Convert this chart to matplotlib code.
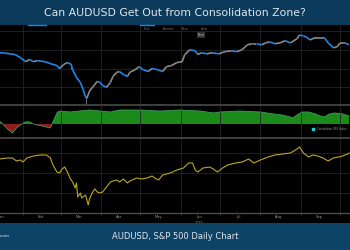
import matplotlib
matplotlib.use('Agg')
import matplotlib.pyplot as plt
import matplotlib.dates as mdates
from matplotlib.collections import LineCollection
from matplotlib.ticker import MultipleLocator, NullFormatter
import numpy as np
import pandas as pd

# AUDUSD closes
price_dates = ['2020-01-14', '2020-01-18', '2020-01-22', '2020-01-26', '2020-01-30',
               '2020-02-03', '2020-02-06', '2020-02-09', '2020-02-12', '2020-02-18',
               '2020-02-22', '2020-02-27', '2020-02-29', '2020-03-03', '2020-03-06',
               '2020-03-09', '2020-03-10', '2020-03-13', '2020-03-16', '2020-03-18',
               '2020-03-20', '2020-03-21', '2020-03-23', '2020-03-26', '2020-03-29',
               '2020-03-31', '2020-04-02', '2020-04-05', '2020-04-08', '2020-04-10',
               '2020-04-13', '2020-04-15', '2020-04-18', '2020-04-21', '2020-04-23',
               '2020-04-27', '2020-04-30', '2020-05-03', '2020-05-07', '2020-05-10',
               '2020-05-14', '2020-05-18', '2020-05-21', '2020-05-25', '2020-05-29',
               '2020-06-02', '2020-06-04', '2020-06-08', '2020-06-12', '2020-06-14',
               '2020-06-17', '2020-06-21', '2020-06-25', '2020-06-30', '2020-07-05',
               '2020-07-10', '2020-07-14', '2020-07-18', '2020-07-22', '2020-07-26',
               '2020-07-29', '2020-08-02', '2020-08-05', '2020-08-08', '2020-08-12',
               '2020-08-16', '2020-08-20', '2020-08-24', '2020-08-29', '2020-08-31',
               '2020-09-03', '2020-09-06', '2020-09-08', '2020-09-12', '2020-09-16',
               '2020-09-19', '2020-09-22', '2020-09-26', '2020-09-29', '2020-10-01',
               '2020-10-05', '2020-10-08']
price_close = [0.692, 0.691, 0.689, 0.687, 0.679,
               0.668, 0.674, 0.668, 0.671, 0.668,
               0.663, 0.658, 0.650, 0.660, 0.666,
               0.661, 0.647, 0.626, 0.613, 0.595,
               0.574, 0.571, 0.590, 0.603, 0.616,
               0.613, 0.605, 0.600, 0.613, 0.629,
               0.640, 0.642, 0.634, 0.629, 0.640,
               0.647, 0.655, 0.647, 0.642, 0.650,
               0.647, 0.642, 0.655, 0.658, 0.666,
               0.668, 0.687, 0.700, 0.697, 0.687,
               0.692, 0.689, 0.692, 0.689, 0.695,
               0.697, 0.695, 0.700, 0.713, 0.716,
               0.716, 0.713, 0.718, 0.721, 0.716,
               0.718, 0.724, 0.718, 0.729, 0.739,
               0.737, 0.732, 0.726, 0.732, 0.732,
               0.732, 0.718, 0.705, 0.708, 0.718,
               0.718, 0.713]
wick_dates = ['2020-03-09', '2020-03-20']
wick_lows = [0.650, 0.555]

# rolling correlation with SPX (middle panel)
corr_dates = ['2020-01-14', '2020-01-18', '2020-01-21', '2020-01-24', '2020-01-27',
              '2020-01-31', '2020-02-03', '2020-02-06', '2020-02-09', '2020-02-12',
              '2020-02-16', '2020-02-19', '2020-02-22', '2020-02-24', '2020-02-27',
              '2020-02-29', '2020-03-08', '2020-03-23', '2020-04-08', '2020-04-15',
              '2020-05-01', '2020-05-16', '2020-05-31', '2020-06-16', '2020-06-26',
              '2020-07-01', '2020-07-16', '2020-08-01', '2020-08-11', '2020-08-18',
              '2020-08-24', '2020-08-26', '2020-08-29', '2020-09-02', '2020-09-07',
              '2020-09-12', '2020-09-16', '2020-09-19', '2020-09-23', '2020-09-27',
              '2020-10-03', '2020-10-08']
corr_values = [0.19, -0.13, -0.38, -0.56, -0.25,
               0.0, 0.13, 0.13, 0.0, -0.06,
               -0.13, -0.19, -0.25, 0.13, 0.69,
               0.81, 0.75, 0.875, 0.75, 0.875,
               0.875, 0.81, 0.875, 0.81, 0.69,
               0.75, 0.81, 0.75, 0.63, 0.56,
               0.44, 0.38, 0.56, 0.75, 0.75,
               0.63, 0.50, 0.44, 0.63, 0.69,
               0.63, 0.50]

# S&P 500 (bottom panel)
spx_dates = ['2020-01-14', '2020-01-20', '2020-01-24', '2020-01-27', '2020-01-30',
             '2020-02-01', '2020-02-04', '2020-02-09', '2020-02-14', '2020-02-19',
             '2020-02-22', '2020-02-24', '2020-02-27', '2020-02-29', '2020-03-02',
             '2020-03-04', '2020-03-06', '2020-03-08', '2020-03-10', '2020-03-12',
             '2020-03-13', '2020-03-14', '2020-03-16', '2020-03-17', '2020-03-20',
             '2020-03-22', '2020-03-23', '2020-03-25', '2020-03-27', '2020-03-29',
             '2020-03-31', '2020-04-02', '2020-04-05', '2020-04-08', '2020-04-10',
             '2020-04-13', '2020-04-15', '2020-04-18', '2020-04-21', '2020-04-23',
             '2020-04-28', '2020-05-02', '2020-05-06', '2020-05-10', '2020-05-12',
             '2020-05-15', '2020-05-18', '2020-05-24', '2020-05-29', '2020-06-03',
             '2020-06-07', '2020-06-10', '2020-06-12', '2020-06-14', '2020-06-18',
             '2020-06-23', '2020-06-26', '2020-06-29', '2020-07-03', '2020-07-07',
             '2020-07-13', '2020-07-18', '2020-07-23', '2020-07-27', '2020-08-01',
             '2020-08-07', '2020-08-12', '2020-08-18', '2020-08-24', '2020-08-28',
             '2020-08-31', '2020-09-03', '2020-09-07', '2020-09-10', '2020-09-14',
             '2020-09-18', '2020-09-22', '2020-09-26', '2020-09-30', '2020-10-03',
             '2020-10-07', '2020-10-08']
spx_close = [3350, 3375, 3375, 3300, 3325,
             3275, 3375, 3425, 3450, 3450,
             3375, 3200, 3025, 3000, 3100,
             3150, 3025, 2875, 2775, 2625,
             2750, 2400, 2500, 2375, 2450,
             2200, 2350, 2500, 2600, 2525,
             2500, 2525, 2650, 2775, 2800,
             2825, 2775, 2850, 2750, 2800,
             2875, 2850, 2875, 2925, 2875,
             2825, 2950, 3000, 3075, 3125,
             3250, 3250, 3075, 3025, 3125,
             3150, 3100, 3025, 3125, 3200,
             3250, 3275, 3350, 3250, 3325,
             3400, 3450, 3475, 3500, 3575,
             3650, 3500, 3400, 3450, 3425,
             3375, 3300, 3375, 3400, 3425,
             3475, 3500]

title = 'Can AUDUSD Get Out from Consolidation Zone?'
subtitle = 'AUDUSD, S&P 500 Daily Chart'
source = 'DailyFX.com'

BANNER = '#0c3a5b'
GRID = '#242424'
SEP = '#4a4a4a'

fig = plt.figure(figsize=(3.5, 2.5), dpi=100, facecolor='black')

x_start = pd.Timestamp('2020-01-14 09:00')
x_end = pd.Timestamp('2020-10-08 17:00')


def style_panel(ax):
    ax.set_facecolor('black')
    ax.set_xlim(x_start, x_end)
    ax.xaxis.set_major_locator(mdates.MonthLocator(bymonthday=1))
    ax.xaxis.set_minor_locator(mdates.MonthLocator(bymonthday=15))
    ax.grid(True, which='major', color=GRID, lw=0.6)
    ax.tick_params(which='both', length=0, labelbottom=False, labelleft=False)
    for s in ax.spines.values():
        s.set_visible(False)


# price panel
ax1 = fig.add_axes([0, 0.58, 1, 0.316])
style_panel(ax1)
ax1.set_ylim(0.553, 0.763)
ax1.yaxis.set_major_locator(MultipleLocator(0.05))
px = mdates.date2num(pd.to_datetime(price_dates))
py = np.array(price_close)
ax1.vlines(mdates.date2num(pd.to_datetime(wick_dates)), wick_lows,
           [price_close[price_dates.index(d)] for d in wick_dates],
           color='#8a8a8a', lw=0.6)
segs = [[(px[i], py[i]), (px[i + 1], py[i + 1])] for i in range(len(px) - 1)]
cols = ['#1f86e8' if py[i + 1] < py[i] else '#8a8a8a' for i in range(len(px) - 1)]
ax1.add_collection(LineCollection(segs, colors=cols, linewidths=1.2, capstyle='butt'))

# correlation panel
ax2 = fig.add_axes([0, 0.448, 1, 0.128])
style_panel(ax2)
ax2.set_ylim(-0.875, 1.125)
ax2.set_yticks([])
cx = pd.to_datetime(corr_dates)
cy = np.array(corr_values)
ax2.fill_between(cx, 0, cy, where=cy >= 0, interpolate=True, color='#1b8a1b', lw=0)
ax2.fill_between(cx, 0, cy, where=cy < 0, interpolate=True, color='#8e1c1c', lw=0)
ax2.plot(cx, cy, color='#3f9a55', lw=0.6)
ax2.plot([0.895], [0.27], 's', color='#19d3d3', ms=1.8, transform=ax2.transAxes)
ax2.text(0.905, 0.27, 'Correlation SPX Index', color='#9a9a9a', fontsize=2,
         va='center', transform=ax2.transAxes)

# SPX panel
ax3 = fig.add_axes([0, 0.148, 1, 0.3])
style_panel(ax3)
ax3.set_ylim(2000, 3875)
ax3.yaxis.set_major_locator(MultipleLocator(500))
ax3.plot(pd.to_datetime(spx_dates), spx_close, color='#bda623', lw=0.8)
ax3.spines['bottom'].set_visible(True)
ax3.spines['bottom'].set_color(SEP)
ax3.spines['bottom'].set_linewidth(1.0)
ax3.xaxis.set_minor_formatter(mdates.DateFormatter('%b'))
ax3.xaxis.set_major_formatter(NullFormatter())
ax3.tick_params(which='minor', labelbottom=True, labelsize=2.6, colors='#9a9a9a', pad=1.5)
ax3.tick_params(which='major', length=1.5, color=SEP, width=0.5)
ax3.text(pd.Timestamp('2020-06-15'), -0.1, '2020', transform=ax3.get_xaxis_transform(),
         ha='center', va='top', fontsize=2.4, color='#9a9a9a')

# panel separators
for yf in (0.579, 0.449):
    fig.add_artist(plt.Line2D([0, 1], [yf, yf], color=SEP, lw=1.2))

# top banner
top = fig.add_axes([0, 0.9, 1, 0.1])
top.set_facecolor(BANNER)
top.set_xticks([]); top.set_yticks([])
for s in top.spines.values():
    s.set_visible(False)
top.text(0.5, 0.48, title, color='#dfe6ec', fontsize=7.8, ha='center', va='center')

# toolbar bits under the banner
for xf, lab in [(0.41, 'Track'), (0.465, 'Annotate'), (0.52, 'News'), (0.575, 'Zoom')]:
    fig.text(xf, 0.884, lab, color='#777777', fontsize=1.8, va='center')
fig.text(0.565, 0.86, 'Reset', color='#cccccc', fontsize=1.8, va='center',
         bbox=dict(boxstyle='square,pad=0.3', fc='#333333', ec='none'))
for x0, x1 in [(0.08, 0.13), (0.40, 0.44)]:
    fig.add_artist(plt.Line2D([x0, x1], [0.9, 0.9], color='#1f86e8', lw=1.0))

# bottom banner
bot = fig.add_axes([0, 0, 1, 0.108])
bot.set_facecolor('#0d4366')
bot.set_xticks([]); bot.set_yticks([])
for s in bot.spines.values():
    s.set_visible(False)
bot.text(0.5, 0.5, subtitle, color='#dfe6ec', fontsize=6.0, ha='center', va='center')
bot.text(0.027, 0.5, source, color='#dfe6ec', fontsize=3.2, ha='right', va='center')

fig.savefig('out.png', dpi=100, facecolor='black')
